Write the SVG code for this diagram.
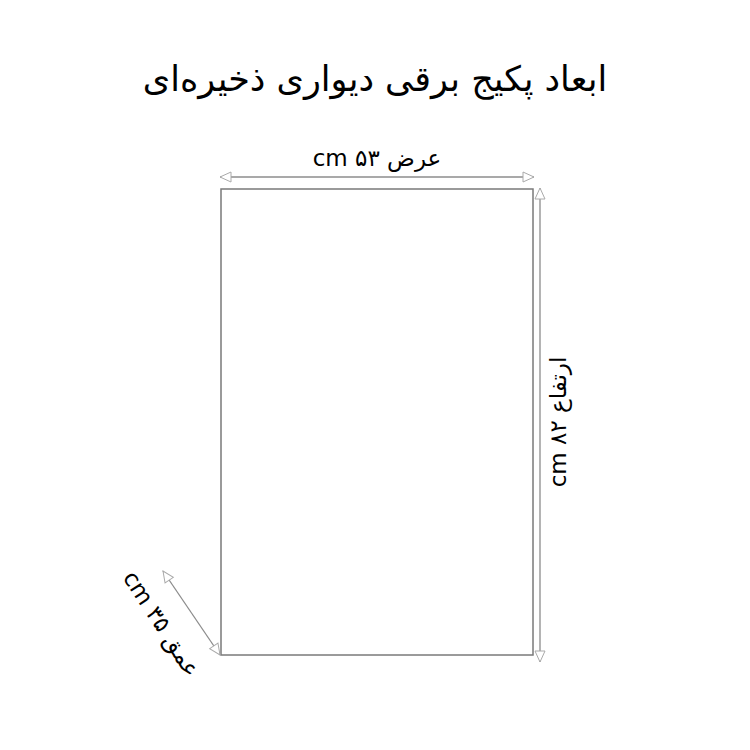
<svg xmlns="http://www.w3.org/2000/svg" width="750" height="750" viewBox="0 0 750 750">
<style>
.t{font-family:"DejaVu Sans","Noto Sans",sans-serif;fill:#000;text-anchor:middle;direction:rtl;unicode-bidi:embed}
.dim{stroke:#8c8c8c;stroke-width:1.3;fill:none}
.box{stroke:#7a7a7a;stroke-width:1.5;fill:#fff}
</style>
<defs>
<marker id="ah" markerUnits="userSpaceOnUse" markerWidth="14" markerHeight="12" refX="12" refY="6" orient="auto-start-reverse">
<path d="M1,1 L12,6 L1,11 Z" fill="#fff" stroke="#aaa" stroke-width="1"/>
</marker>
</defs>
<rect width="750" height="750" fill="#fff"/>
<text class="t" x="375" y="91" font-size="35">ابعاد پکیج برقی دیواری ذخیره‌ای</text>
<g id="box"><rect class="box" x="221" y="189" width="312" height="466"/></g>
<g id="connectors">
<line class="dim" x1="220" y1="177" x2="534" y2="177" marker-start="url(#ah)" marker-end="url(#ah)"/>
<line class="dim" x1="540" y1="188" x2="540" y2="662" marker-start="url(#ah)" marker-end="url(#ah)"/>
<line class="dim" x1="220" y1="655" x2="163" y2="571" marker-start="url(#ah)" marker-end="url(#ah)"/>
</g>
<g id="labels">
<text class="t" x="377" y="166" font-size="23">عرض ۵۳ cm</text>
<text class="t" font-size="23" transform="translate(566 422) rotate(-90)">ارتفاع ۸۲ cm</text>
<text class="t" font-size="23" transform="translate(155 628) rotate(57)">عمق ۳۵ cm</text>
</g>
</svg>
